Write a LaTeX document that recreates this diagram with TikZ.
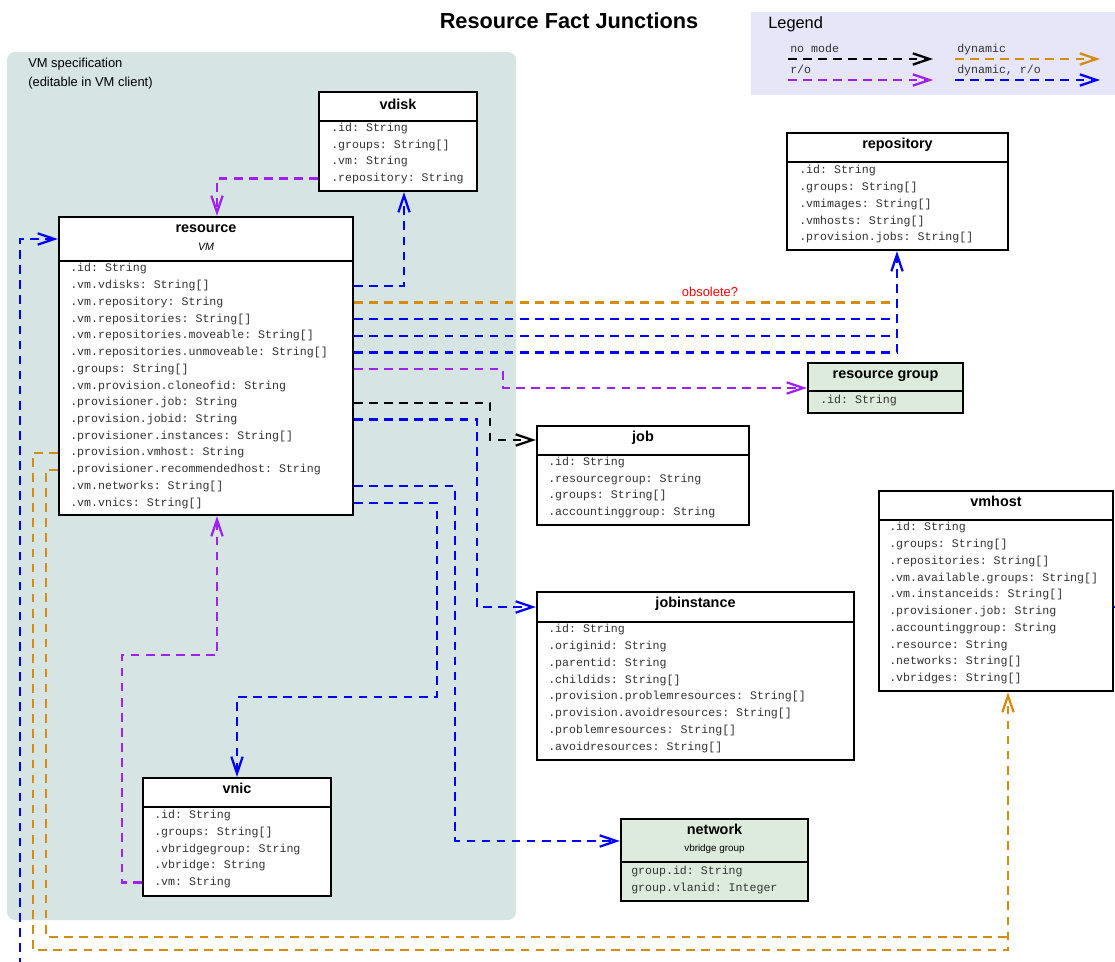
\documentclass[tikz,border=0pt]{standalone}
\usepackage{fontspec}
\setmainfont{Liberation Sans}
\setmonofont{Liberation Mono}
\usetikzlibrary{arrows.meta,fit}

\definecolor{dynC}{RGB}{214,140,16}
\definecolor{roC}{RGB}{160,32,240}
\definecolor{vmC}{RGB}{214,228,228}
\definecolor{lgC}{RGB}{230,230,248}
\definecolor{grC}{RGB}{220,235,220}
\definecolor{txC}{RGB}{50,50,50}

\newcommand\attrrows[5]{\foreach \t [count=\i] in {#5} {\node[attr] (#1\i) at (#2,{#3+#4*(\i-1)}) {\t};}}

\begin{document}
\begin{tikzpicture}[x=0.75pt,y=-0.75pt,
  box/.style={draw=black, line width=1.7pt, fill=white, inner sep=0pt},
  gbox/.style={box, fill=grC},
  divline/.style={line width=1.7pt},
  ctitle/.style={font=\fontsize{10.8}{12}\selectfont\bfseries, inner sep=0pt, text height=7.8pt, text depth=2.2pt},
  csub/.style={font=\fontsize{7.4}{9}\selectfont, inner sep=0pt},
  attr/.style={font=\fontsize{8.7}{10}\selectfont\ttfamily, text=txC, anchor=west, inner sep=0pt, text height=6.5pt, text depth=2pt},
  lgtext/.style={attr},
  sans/.style={font=\fontsize{9.7}{11}\selectfont, anchor=west, inner sep=0pt},
  conn/.style={line width=1.7pt, dash pattern=on 6.5pt off 4.8pt, -{Straight Barb[length=12.5pt,width=8.5pt]}},
  nomode/.style={conn, draw=black},
  ro/.style={conn, draw=roC},
  dyn/.style={conn, draw=dynC},
  dynro/.style={conn, draw=blue},
  notip/.style={-}
]
\useasboundingbox (0,0) rectangle (1115,962);
\clip (0,0) rectangle (1115,962);

% title
\node[font=\fontsize{16.3}{18}\selectfont\bfseries, inner sep=0pt] (title) at (569,21) {Resource Fact Junctions};

% legend
\node[fill=lgC, inner sep=0pt, fit={(751,12) (1115,95)}] (legend) {};
\node[font=\fontsize{12.3}{14}\selectfont, anchor=west, inner sep=0pt] (legendT) at (768,24) {Legend};
\node[lgtext] (lg1) at (790,50) {no mode};
\node[lgtext] (lg2) at (957,50) {dynamic};
\node[lgtext] (lg3) at (790,71) {r/o};
\node[lgtext] (lg4) at (957,71) {dynamic, r/o};
\coordinate (la1) at (788,59); \coordinate (lb1) at (933,59);
\coordinate (la2) at (955,59); \coordinate (lb2) at (1100,59);
\coordinate (la3) at (788,80); \coordinate (lb3) at (933,80);
\coordinate (la4) at (955,80); \coordinate (lb4) at (1100,80);
\draw[nomode] (la1) -- (lb1);
\draw[dyn] (la2) -- (lb2);
\draw[ro] (la3) -- (lb3);
\draw[dynro] (la4) -- (lb4);

% VM specification region
\node[fill=vmC, rounded corners=6pt, inner sep=0pt, fit={(7,52) (516,920)}] (vmspec) {};
\node[sans] (vmspecT1) at (28,64) {VM specification};
\node[sans] (vmspecT2) at (28,83) {(editable in VM client)};

% vdisk
\node[box, fit={(319,92) (477,191)}] (vdisk) {};
\draw[divline] (vdisk.west |- 0,121) -- (vdisk.east |- 0,121);
\node[ctitle] (vdiskT) at (vdisk.center |- 0,106) {vdisk};
\attrrows{vd}{331}{128.5}{16.7}{.id: String,.groups: String[],.vm: String,.repository: String}

% resource
\node[box, fit={(59,217) (353,515)}] (resource) {};
\draw[divline] (resource.west |- 0,261) -- (resource.east |- 0,261);
\node[ctitle] (resourceT) at (resource.center |- 0,229) {resource};
\node[csub, font=\fontsize{8}{9}\selectfont\itshape] (resourceS) at (resource.center |- 0,247) {VM};
\attrrows{res}{70}{269}{16.72}{.id: String,.vm.vdisks: String[],.vm.repository: String,.vm.repositories: String[],.vm.repositories.moveable: String[],.vm.repositories.unmoveable: String[],.groups: String[],.vm.provision.cloneofid: String,.provisioner.job: String,.provision.jobid: String,.provisioner.instances: String[],.provision.vmhost: String,.provisioner.recommendedhost: String,.vm.networks: String[],.vm.vnics: String[]}

% repository
\node[box, fit={(787,133) (1008,250)}] (repository) {};
\draw[divline] (repository.west |- 0,162) -- (repository.east |- 0,162);
\node[ctitle] (repositoryT) at (repository.center |- 0,145) {repository};
\attrrows{rep}{799}{171}{16.75}{.id: String,.groups: String[],.vmimages: String[],.vmhosts: String[],.provision.jobs: String[]}

% resource group
\node[gbox, fit={(808,363) (963,413)}] (rgroup) {};
\draw[divline] (rgroup.west |- 0,391) -- (rgroup.east |- 0,391);
\node[ctitle] (rgroupT) at (rgroup.center |- 0,375) {resource group};
\attrrows{rg}{820}{400.5}{16.75}{.id: String}

% job
\node[box, fit={(537,426) (749,525)}] (job) {};
\draw[divline] (job.west |- 0,455) -- (job.east |- 0,455);
\node[ctitle] (jobT) at (job.center |- 0,438) {job};
\attrrows{jb}{548}{462.5}{16.6}{.id: String,.resourcegroup: String,.groups: String[],.accountinggroup: String}

% vmhost
\node[box, fit={(879,491) (1113,691)}] (vmhost) {};
\draw[divline] (vmhost.west |- 0,520) -- (vmhost.east |- 0,520);
\node[ctitle] (vmhostT) at (vmhost.center |- 0,503) {vmhost};
\attrrows{vh}{889}{528}{16.72}{.id: String,.groups: String[],.repositories: String[],.vm.available.groups: String[],.vm.instanceids: String[],.provisioner.job: String,.accountinggroup: String,.resource: String,.networks: String[],.vbridges: String[]}

% jobinstance
\node[box, fit={(537,592) (854,760)}] (jobinst) {};
\draw[divline] (jobinst.west |- 0,622) -- (jobinst.east |- 0,622);
\node[ctitle] (jobinstT) at (jobinst.center |- 0,604) {jobinstance};
\attrrows{ji}{548}{629.5}{16.85}{.id: String,.originid: String,.parentid: String,.childids: String[],.provision.problemresources: String[],.provision.avoidresources: String[],.problemresources: String[],.avoidresources: String[]}

% vnic
\node[box, fit={(143,778) (331,896)}] (vnic) {};
\draw[divline] (vnic.west |- 0,807) -- (vnic.east |- 0,807);
\node[ctitle] (vnicT) at (vnic.center |- 0,790) {vnic};
\attrrows{vn}{154}{815.5}{16.75}{.id: String,.groups: String[],.vbridgegroup: String,.vbridge: String,.vm: String}

% network
\node[gbox, fit={(621,819) (808,901)}] (network) {};
\draw[divline] (network.west |- 0,862) -- (network.east |- 0,862);
\node[ctitle] (networkT) at (network.center |- 0,831) {network};
\node[csub] (networkS) at (network.center |- 0,849) {vbridge group};
\attrrows{nw}{631}{871.5}{16.75}{group.id: String,group.vlanid: Integer}

% connectors
\draw[ro] (vdisk.west |- vd4) -| (217,0 |- resource.north);
\draw[dynro] (resource.east |- res2) -| (404,0 |- vdisk.south);
\draw[dyn,notip] (resource.east |- res3) -- (897,0 |- res3);
\draw[dynro,notip] (resource.east |- res4) -- (897,0 |- res4);
\draw[dynro,notip] (resource.east |- res5) -- (897,0 |- res5);
\draw[dynro] (resource.east |- res6) -| (897,0 |- repository.south);
\node[font=\fontsize{9.7}{11}\selectfont, text=red, inner sep=0pt] (obsolete) at (710,292) {obsolete?};
\draw[ro] (resource.east |- res7) -- (503,0 |- res7) |- (rgroup.west |- 0,388);
\draw[nomode] (resource.east |- res9) -- (490,0 |- res9) |- (job.west |- 0,440);
\draw[dynro] (resource.east |- res10) -- (477,0 |- res10) |- (jobinst.west |- 0,607);
\draw[dynro] (resource.east |- res14) -- (455,0 |- res14) |- (network.west |- 0,841);
\draw[dynro] (resource.east |- res15) -- (437,0 |- res15) -- (437,697) -| (vnic.north);
\draw[ro] (vnic.west |- vn5) -- (122,0 |- vn5) -- (122,655) -| (217,0 |- resource.south);
\draw[dyn] (resource.west |- res12) -- (33,0 |- res12) -- (33,950) -| (1008,0 |- vmhost.south);
\draw[dyn,notip] (resource.west |- res13) -- (46,0 |- res13) -- (46,937) -- (1008,937);
\draw[dynro] (vmhost.east |- 0,607) -- (1140,607) -- (1140,990) -- (20,990) -- (20,239) -- (resource.west |- 0,239);
\end{tikzpicture}
\end{document}
